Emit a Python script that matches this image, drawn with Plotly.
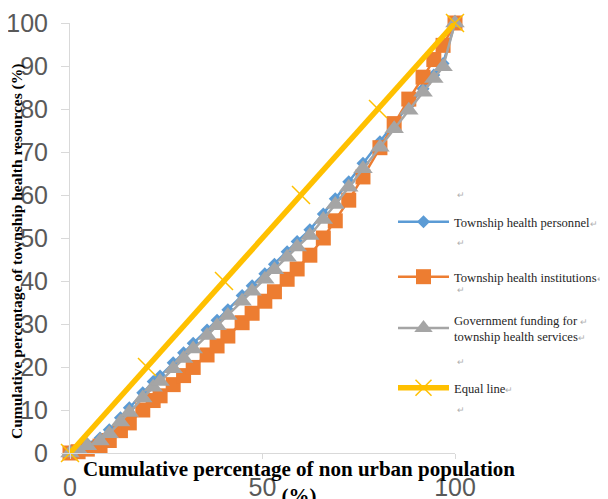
import plotly.graph_objects as go

# Cumulative percentage of non-urban population (x)
pop_cum = [0, 2.1, 4.5, 7.8, 10.2, 13.1, 15.4, 18.9, 21.6, 23.4, 26.8, 29.5, 32.0, 35.6,
           38.2, 41.0, 44.7, 47.3, 50.6, 53.1, 56.4, 59.0, 62.3, 65.8, 68.9, 72.4, 76.1,
           80.5, 84.2, 88.0, 91.7, 94.5, 96.9, 100]

personnel = [0, 1.0, 2.1, 3.5, 5.4, 8.2, 10.5, 14.0, 16.6, 17.9, 21.0, 23.3, 25.5, 28.6,
             30.9, 33.3, 36.6, 38.9, 41.7, 43.9, 46.8, 49.2, 51.9, 55.6, 59.1, 63.1, 67.4,
             72.4, 76.7, 80.8, 84.7, 87.9, 90.6, 100]

institutions = [0, 0.3, 0.9, 1.6, 2.9, 5.2, 7.0, 10.0, 12.2, 13.3, 15.9, 18.0, 19.9, 22.8,
                24.9, 27.2, 30.3, 32.5, 35.3, 37.5, 40.4, 42.8, 46.0, 50.0, 54.0, 58.8, 64.2,
                71.0, 76.6, 82.3, 87.4, 91.5, 94.8, 100]

funding = [0, 0.8, 1.7, 2.8, 4.5, 7.2, 9.4, 12.8, 15.3, 16.6, 19.6, 22.0, 24.2, 27.3,
           29.6, 32.0, 35.3, 37.6, 40.4, 42.6, 45.5, 47.9, 50.6, 54.3, 57.8, 61.8, 66.1,
           71.1, 75.4, 79.7, 83.9, 87.1, 89.8, 100]

equal_x = [0, 20, 40, 60, 80, 100]
equal_y = [0, 20, 40, 60, 80, 100]

x_ticks = [0, 50, 100]
y_ticks = [0, 10, 20, 30, 40, 50, 60, 70, 80, 90, 100]

RET = "<span style='color:#b0b0b0;font-size:9px'>\u21b5</span>"
names = [
    "Township health personnel" + RET,
    "Township health institutions" + RET,
    "Government funding for " + RET + "<br>township health services" + RET,
    "Equal line" + RET,
]

BLUE, ORANGE, GREY, YELLOW = "#5B9BD5", "#ED7D31", "#A5A5A5", "#FFC000"
OFF = 8  # page body margin
W, H = 600, 491

fig = go.Figure()
fig.add_trace(go.Scatter(x=pop_cum, y=personnel, mode="lines+markers", name=names[0],
                         line=dict(color=BLUE, width=2.5),
                         marker=dict(symbol="diamond", size=10, color=BLUE),
                         cliponaxis=False, legend="legend"))
fig.add_trace(go.Scatter(x=pop_cum, y=institutions, mode="lines+markers", name=names[1],
                         line=dict(color=ORANGE, width=2.5),
                         marker=dict(symbol="square", size=15, color=ORANGE),
                         cliponaxis=False, legend="legend2"))
fig.add_trace(go.Scatter(x=pop_cum, y=funding, mode="lines+markers", name=names[2],
                         line=dict(color=GREY, width=2.5),
                         marker=dict(symbol="triangle-up", size=17, color=GREY),
                         cliponaxis=False, legend="legend3"))
fig.add_trace(go.Scatter(x=equal_x, y=equal_y, mode="lines+markers", name=names[3],
                         line=dict(color=YELLOW, width=5.5),
                         marker=dict(symbol="x-thin", size=18, color=YELLOW,
                                     line=dict(color=YELLOW, width=1.5)),
                         cliponaxis=False, legend="legend4"))

# plot area in page pixels: x 70..455, y 23..453
L, T, PW, PH = 70 - OFF, 23 - OFF, 385, 430
def px_x(p):
    return (p - OFF - L) / PW
def px_y(p):
    return (T + PH - (p - OFF)) / PH
def cx(p):
    return (p - OFF) / W
def cy(p):
    return 1 - (p - OFF) / H

leg_common = dict(font=dict(family="Liberation Serif", size=12.6, color="#262626"),
                  bgcolor="rgba(0,0,0,0)", itemwidth=51, xanchor="left", yanchor="middle",
                  xref="container", yref="container", itemclick=False)
lx = cx(385 + OFF)
fig.update_layout(
    showlegend=True,
    legend=dict(x=lx, y=cy(222), **leg_common),
    legend2=dict(x=lx, y=cy(277), **leg_common),
    legend3=dict(x=lx, y=cy(328), **leg_common),
    legend4=dict(x=lx, y=cy(388), **leg_common),
)

tick_font = dict(family="Liberation Sans", size=25, color="#595959")
fig.update_xaxes(range=[0, 100], tickvals=x_ticks, ticktext=[str(v) for v in x_ticks],
                 showgrid=False, zeroline=False, showline=True, linecolor="#D9D9D9",
                 linewidth=1, ticks="outside", ticklen=5, tickcolor="#D9D9D9",
                 tickfont=tick_font, ticklabelstandoff=7, automargin=False)
fig.update_yaxes(range=[0, 100], tickvals=y_ticks, ticktext=[str(v) for v in y_ticks],
                 showgrid=False, zeroline=False, showline=True, linecolor="#D9D9D9",
                 linewidth=1, ticks="outside", ticklen=8, tickcolor="#D9D9D9",
                 tickfont=tick_font, ticklabelstandoff=8, automargin=False)

annotations = [
    dict(text="<b>Cumulative percentage of township health resources (%)</b>",
         xref="paper", yref="paper", x=px_x(17), y=px_y(252), textangle=-90,
         showarrow=False, xanchor="center", yanchor="middle",
         font=dict(family="Liberation Serif", size=15.5, color="#000000")),
    dict(text="<b>Cumulative percentage of non urban population</b><br><b>(%)</b>",
         xref="paper", yref="paper", x=px_x(299), y=px_y(455), xanchor="center",
         yanchor="top", showarrow=False, align="center",
         font=dict(family="Liberation Serif", size=21, color="#000000")),
]
for py in [195, 243, 290, 362, 410]:
    annotations.append(dict(text="\u21b5", xref="paper", yref="paper", x=px_x(455), y=px_y(py),
                            xanchor="left", yanchor="middle", showarrow=False,
                            font=dict(family="Liberation Serif", size=9, color="#b0b0b0")))

fig.update_layout(
    width=W, height=H,
    margin=dict(l=L, r=W - L - PW, t=T, b=H - T - PH, autoexpand=False),
    plot_bgcolor="white", paper_bgcolor="white",
    annotations=annotations,
)

fig.write_html("out.html")
